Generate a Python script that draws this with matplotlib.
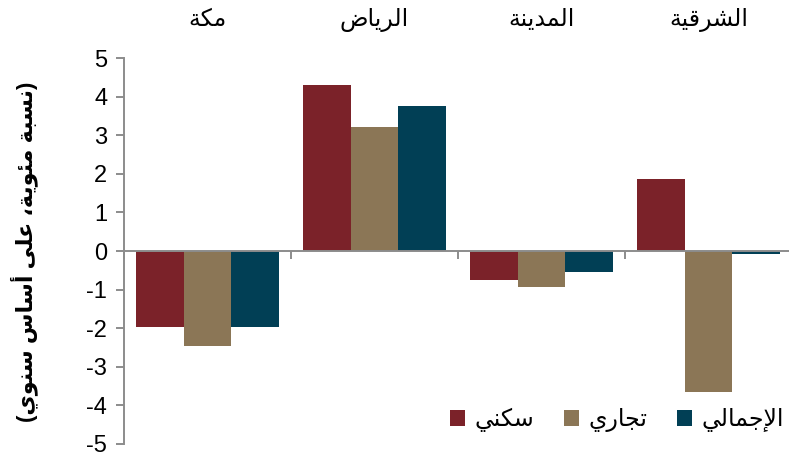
import numpy as np
import matplotlib
matplotlib.use('Agg')
import matplotlib.pyplot as plt
import matplotlib.transforms as mtransforms

plt.rcParams['font.family'] = ['Liberation Sans', 'DejaVu Sans']

# data
regions = ['مكة', 'الرياض', 'المدينة', 'الشرقية']
series = ['سكني', 'تجاري', 'الإجمالي']
residential = [-1.96, 4.30, -0.75, 1.87]
commercial = [-2.46, 3.22, -0.94, -3.66]
total = [-1.97, 3.76, -0.55, -0.09]
colors = ['#7B2229', '#8B7656', '#013F55']
yticks = list(range(-5, 6))
ylabel = '(نسبة مئوية، على أساس سنوي)'

# minimal arabic shaping: (isolated, final, initial, medial)
FORMS = {
    'ا': (0xFE8D, 0xFE8E, None, None), 'أ': (0xFE83, 0xFE84, None, None),
    'إ': (0xFE87, 0xFE88, None, None), 'د': (0xFEA9, 0xFEAA, None, None),
    'ر': (0xFEAD, 0xFEAE, None, None), 'و': (0xFEED, 0xFEEE, None, None),
    'ة': (0xFE93, 0xFE94, None, None), 'ى': (0xFEEF, 0xFEF0, None, None),
    'ب': (0xFE8F, 0xFE90, 0xFE91, 0xFE92), 'ت': (0xFE95, 0xFE96, 0xFE97, 0xFE98),
    'ج': (0xFE9D, 0xFE9E, 0xFE9F, 0xFEA0), 'س': (0xFEB1, 0xFEB2, 0xFEB3, 0xFEB4),
    'ش': (0xFEB5, 0xFEB6, 0xFEB7, 0xFEB8), 'ض': (0xFEBD, 0xFEBE, 0xFEBF, 0xFEC0),
    'ع': (0xFEC9, 0xFECA, 0xFECB, 0xFECC), 'ق': (0xFED5, 0xFED6, 0xFED7, 0xFED8),
    'ك': (0xFED9, 0xFEDA, 0xFEDB, 0xFEDC), 'ل': (0xFEDD, 0xFEDE, 0xFEDF, 0xFEE0),
    'م': (0xFEE1, 0xFEE2, 0xFEE3, 0xFEE4), 'ن': (0xFEE5, 0xFEE6, 0xFEE7, 0xFEE8),
    'ي': (0xFEF1, 0xFEF2, 0xFEF3, 0xFEF4), 'ئ': (0xFE89, 0xFE8A, 0xFE8B, 0xFE8C),
}
LAMALEF = {'ا': (0xFEFB, 0xFEFC), 'أ': (0xFEF7, 0xFEF8), 'إ': (0xFEF9, 0xFEFA)}


def dual(c):
    return c in FORMS and FORMS[c][2] is not None


def ar(text):
    # shape letters and flip to visual order (matplotlib draws left to right)
    out = []
    chars = list(text)
    i = 0
    while i < len(chars):
        c = chars[i]
        prev = chars[i - 1] if i > 0 else ''
        joins_prev = dual(prev) and c in FORMS
        if c == 'ل' and i + 1 < len(chars) and chars[i + 1] in LAMALEF:
            iso, fin = LAMALEF[chars[i + 1]]
            out.append(chr(fin if joins_prev else iso))
            i += 2
            continue
        if c not in FORMS:
            out.append(c)
            i += 1
            continue
        nxt = chars[i + 1] if i + 1 < len(chars) else ''
        joins_next = dual(c) and nxt in FORMS
        iso, fin, ini, med = FORMS[c]
        if joins_prev and joins_next:
            g = med
        elif joins_prev:
            g = fin
        elif joins_next:
            g = ini
        else:
            g = iso
        out.append(chr(g))
        i += 1
    vis = ''.join(reversed(out))
    return vis.translate(str.maketrans('()', ')('))


fig = plt.figure(figsize=(7.89, 4.54), dpi=100)
ax = fig.add_axes([124 / 789, 10 / 454, 668 / 789, 386 / 454])

x = np.arange(len(regions)) + 0.5
w = 0.286
for j, (vals, col, name) in enumerate(zip([residential, commercial, total], colors, series)):
    ax.bar(x + (j - 1) * w, vals, w, color=col, label=ar(name), zorder=2)

ax.set_xlim(0, 4)
ax.set_ylim(-5, 5)
ax.set_yticks(yticks)
ax.set_yticklabels([str(t) for t in yticks], fontsize=17)
ax.set_xticks([0, 1, 2, 3, 4])
ax.set_xticklabels([])

for s in ['top', 'right']:
    ax.spines[s].set_visible(False)
ax.spines['bottom'].set_position(('data', 0))
for s in ['left', 'bottom']:
    ax.spines[s].set_color('#8C8C8C')
    ax.spines[s].set_linewidth(1.4)
    ax.spines[s].set_zorder(3)
ax.tick_params(axis='both', direction='out', length=6, width=1.4, color='#8C8C8C')
ax.tick_params(axis='y', pad=6)

trans = mtransforms.blended_transform_factory(ax.transData, fig.transFigure)
for xi, name in zip(x, regions):
    ax.text(xi, 1 - 20 / 454, ar(name), transform=trans,
            ha='center', va='center', fontsize=17)

fig.text(24 / 789, 1 - 252 / 454, ar(ylabel), rotation=90, ha='center', va='center',
         fontsize=16, fontweight='bold')

ax.legend(loc='center right', bbox_to_anchor=(1.006, 1 - 420 / 454), bbox_transform=fig.transFigure,
          ncol=3, frameon=False, fontsize=17, handlelength=0.65, handleheight=0.65,
          handletextpad=0.4, columnspacing=1.25, borderaxespad=0)

fig.savefig('out.png', dpi=100)
